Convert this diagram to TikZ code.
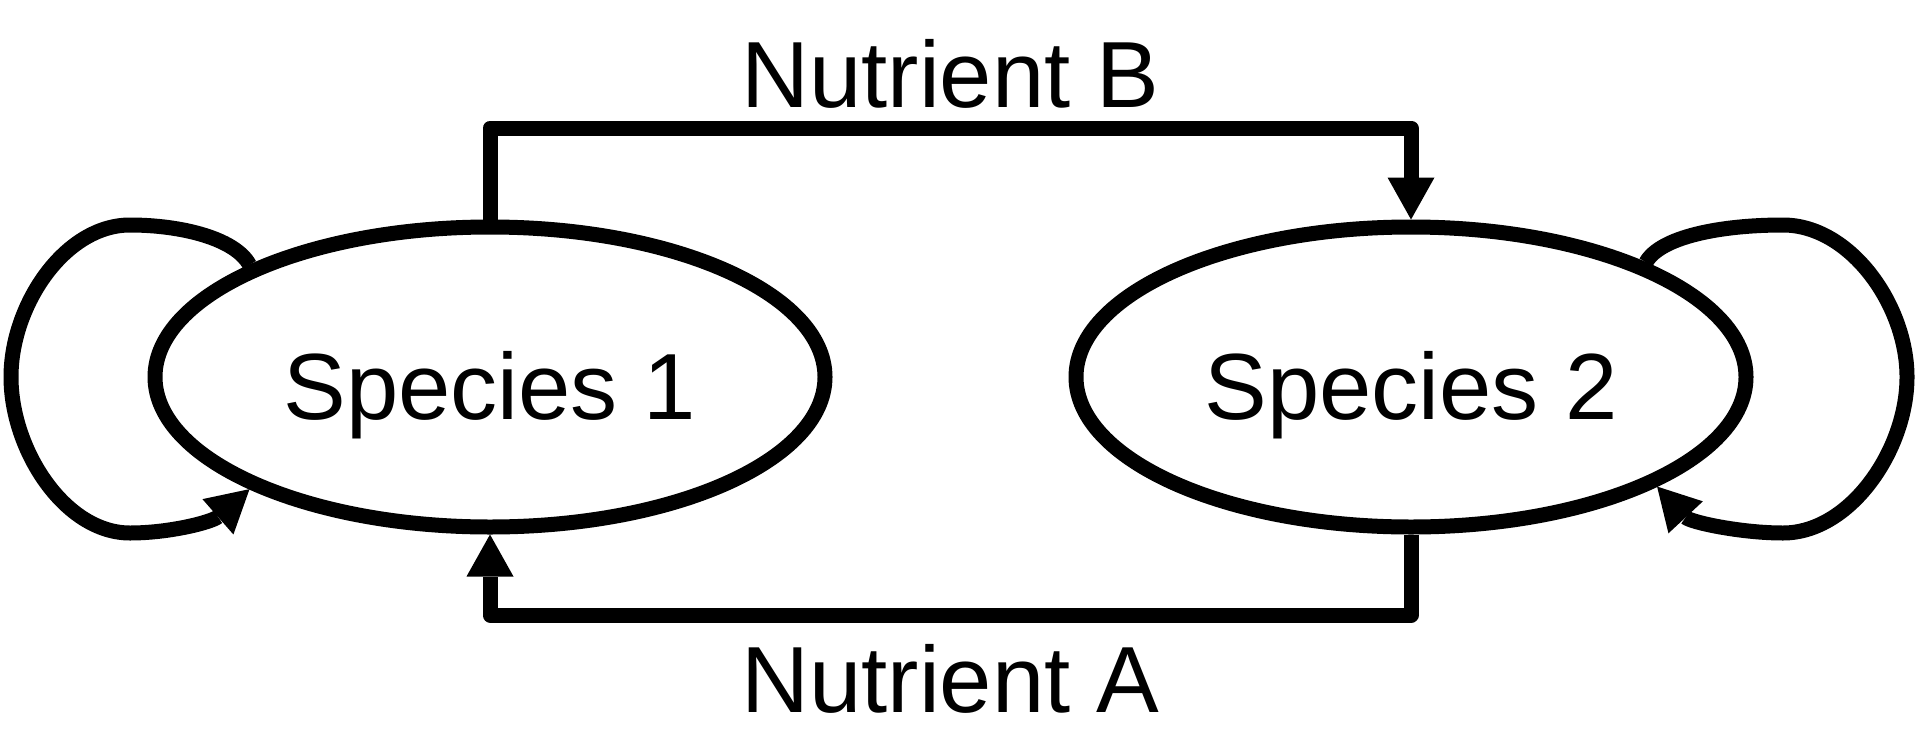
\documentclass[tikz,border=0pt]{standalone}
\usepackage{fontspec}
\setmainfont{Liberation Sans}
\usetikzlibrary{arrows.meta,shapes.geometric}
\begin{document}
\begin{tikzpicture}[x=1pt,y=-1pt,
  line width=15pt, line join=round,
  species/.style={draw, ellipse, minimum width=670pt, minimum height=300pt, inner sep=0pt,
    text height=84pt, text depth=0pt, font=\fontsize{94}{100}\selectfont},
  lbl/.style={font=\fontsize{94}{100}\selectfont, anchor=base, inner sep=0pt},
  arrowed/.style={-{Triangle[length=42pt,width=47pt,line width=0pt]}}
]
\fill[white] (0,0) rectangle (1916,728);
\node[species] (s1) at (490,377) {Species 1};
\node[species] (s2) at (1411,377) {Species 2};
\node[lbl] (nb) at (950.5,107) {Nutrient B};
\node[lbl] (na) at (950.5,712) {Nutrient A};
\draw[arrowed] (s1.north) -- (s1.north |- 0,128) -- (s2.north |- 0,128) -- (s2.north);
\draw[arrowed] (s2.south) -- (s2.south |- 0,615) -- (s1.south |- 0,615) -- (s1.south);
\draw[arrowed] (s1.155) .. controls (235,238) and (180,225) .. (130,225)
  .. controls (65,225) and (11,305) .. (11,377)
  .. controls (11,450) and (65,533) .. (130,533)
  .. controls (170,533) and (212,522) .. (s1.205);
\draw[arrowed] (s2.26) .. controls (1660,237) and (1720,225) .. (1783,225)
  .. controls (1850,225) and (1907,305) .. (1907,377)
  .. controls (1907,450) and (1850,533) .. (1783,533)
  .. controls (1740,533) and (1690,522) .. (s2.336);
\end{tikzpicture}
\end{document}
